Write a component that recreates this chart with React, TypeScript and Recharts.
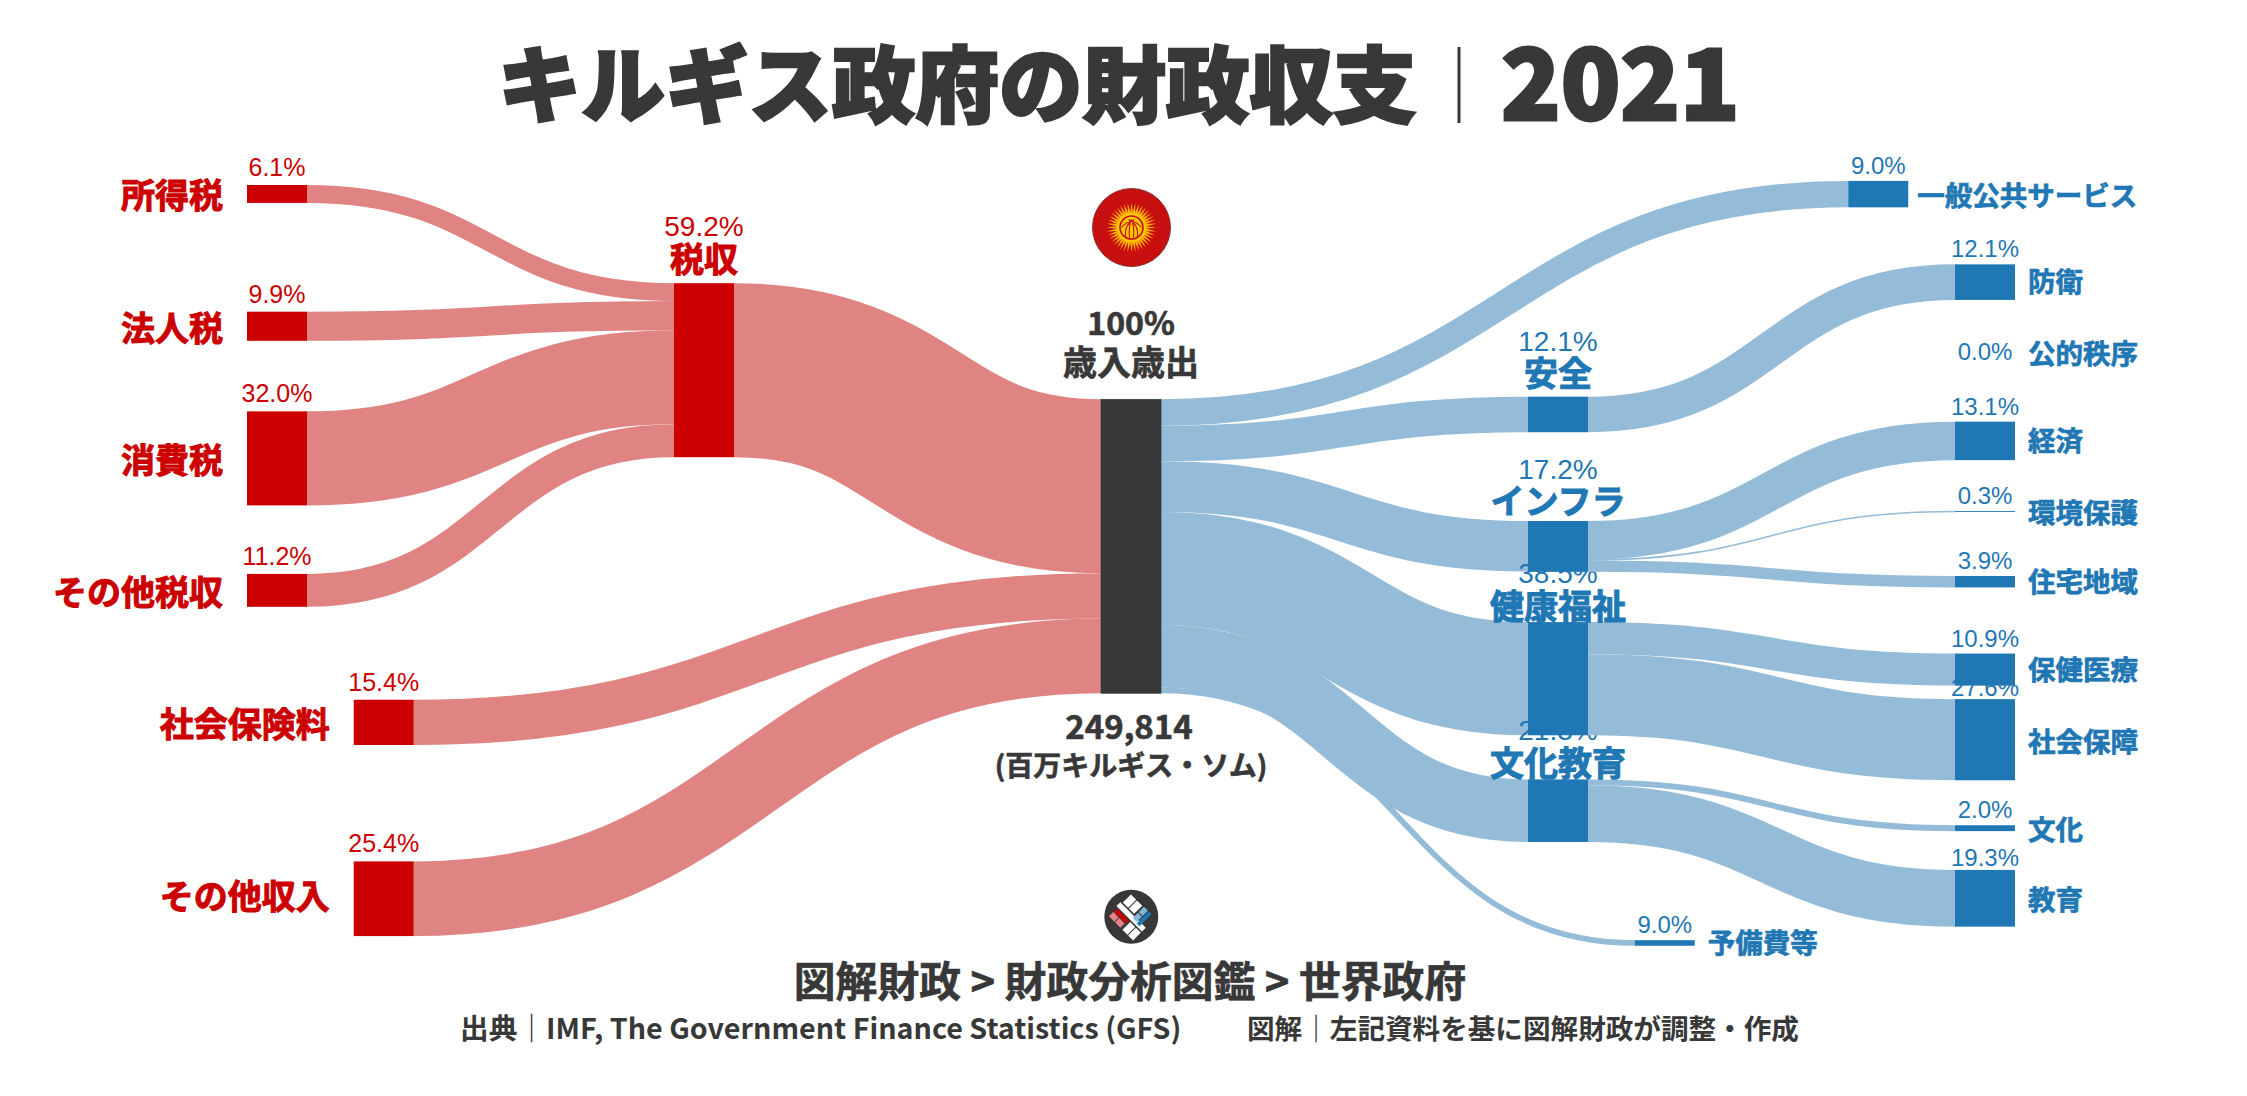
import { Sankey } from 'recharts';

// values in % of the total
const revenueNames = ['所得税', '法人税', '消費税', 'その他税収', '社会保険料', 'その他収入'];
const revenueValues = [6.1, 9.9, 32.0, 11.2, 15.4, 25.4];
const revenueLabels = ['6.1%', '9.9%', '32.0%', '11.2%', '15.4%', '25.4%'];

const sectorNames = ['一般公共サービス', '安全', 'インフラ', '健康福祉', '文化教育', '予備費等'];
const sectorValues = [9.0, 12.1, 17.2, 38.5, 21.3, 1.9];
const sectorLabels = ['9.0%', '12.1%', '17.2%', '38.5%', '21.3%', '9.0%'];

const detailNames = ['防衛', '公的秩序', '経済', '環境保護', '住宅地域', '保健医療', '社会保障', '文化', '教育'];
const detailParents = ['安全', '安全', 'インフラ', 'インフラ', 'インフラ', '健康福祉', '健康福祉', '文化教育', '文化教育'];
const detailValues = [12.1, 0, 13.1, 0.3, 3.9, 10.9, 27.6, 2.0, 19.3];
const detailLabels = ['12.1%', '0.0%', '13.1%', '0.3%', '3.9%', '10.9%', '27.6%', '2.0%', '19.3%'];

// empty space above each node of a column, same unit as the values
const revenueGaps = [5.1, 37.0, 24.0, 23.3, 31.6, 39.6];
const taxGaps = [38.5];
const totalGaps = [78.0];
const sectorGaps = [3.7, 64.4, 30.2, 17.1, 15.0, 33.4];
const detailGaps = [32.1, 17.7, 23.7, 17.3, 21.8, 22.5, 4.6, 15.3, 13.2];
const gapTotal = 170;

const TAX = '税収';
const TOTAL = '歳入歳出';

const RED = '#cc0000';
const RED_LINK = '#e08383';
const BLUE = '#1f77b4';
const BLUE_LINK = '#94bbd7';
const DARK = '#383838';
const JP = '"Noto Sans CJK JP", sans-serif';
const LATIN = '"Liberation Sans", sans-serif';

const MARGIN = { top: 170, left: 247, right: 232, bottom: 132 };
const NODE_WIDTH = 60;
const COLUMN_STEP = 427;
const nudges: Record<string, number> = { 社会保険料: 0.25, その他収入: 0.25, 一般公共サービス: 0.75, 予備費等: 0.25 };
const nameLift: Record<string, number> = { 税収: 26, 安全: 25, インフラ: 21, 健康福祉: 18, 文化教育: 18 };
const nameDrop: Record<string, number> = { その他収入: -4, 防衛: -2, 経済: -2, 住宅地域: -2, 保健医療: -2, 予備費等: -2 };
const nameSlide: Record<string, number> = { 一般公共サービス: -4 };
const pctLift: Record<string, number> = { 社会保障: 3, 教育: 4, 公的秩序: -8 };
// these labels sit under the bar of the node above them
const labelsUnderBars = ['健康福祉', '文化教育', '社会保障'];

const labelOf: Record<string, string> = {};
revenueNames.forEach((n, i) => (labelOf[n] = revenueLabels[i]));
sectorNames.forEach((n, i) => (labelOf[n] = sectorLabels[i]));
detailNames.forEach((n, i) => (labelOf[n] = detailLabels[i]));
labelOf[TAX] = '59.2%';

const buildData = () => {
  const columns = [
    { names: revenueNames, gaps: revenueGaps },
    { names: [TAX], gaps: taxGaps },
    { names: [TOTAL], gaps: totalGaps },
    { names: sectorNames, gaps: sectorGaps },
    { names: detailNames, gaps: detailGaps },
  ];
  const nodes: any[] = [];
  const links: any[] = [];
  const indexOf: Record<string, number> = {};
  const gapCols: { index: number; size: number }[][] = [];

  columns.forEach((col, d) => {
    const used = col.gaps.reduce((a, b) => a + b, 0);
    const sizes = [...col.gaps, gapTotal - used];
    const list: { index: number; size: number }[] = [];
    sizes.forEach((size, i) => {
      list.push({ index: nodes.length, size });
      nodes.push({ name: `gap-${d}-${i}`, hidden: true });
      if (i < col.names.length) {
        indexOf[col.names[i]] = nodes.length;
        nodes.push({ name: col.names[i] });
      }
    });
    gapCols.push(list);
  });

  // spacers hand their size on to the next column so the layout keeps them
  for (let d = 0; d < gapCols.length - 1; d++) {
    let a = 0;
    let b = 0;
    let restA = gapCols[d][0].size;
    let restB = gapCols[d + 1][0].size;
    while (a < gapCols[d].length && b < gapCols[d + 1].length) {
      const v = Math.min(restA, restB);
      if (v > 1e-9) links.push({ source: gapCols[d][a].index, target: gapCols[d + 1][b].index, value: v });
      restA -= v;
      restB -= v;
      if (restA <= 1e-9) {
        a++;
        restA = a < gapCols[d].length ? gapCols[d][a].size : 0;
      }
      if (restB <= 1e-9) {
        b++;
        restB = b < gapCols[d + 1].length ? gapCols[d + 1][b].size : 0;
      }
    }
  }

  const add = (from: string, to: string, value: number) =>
    links.push({ source: indexOf[from], target: indexOf[to], value });
  revenueNames.forEach((n, i) => add(n, i < 4 ? TAX : TOTAL, revenueValues[i]));
  add(TAX, TOTAL, 59.2);
  sectorNames.forEach((n, i) => add(TOTAL, n, sectorValues[i]));
  detailNames.forEach((n, i) => add(detailParents[i], n, detailValues[i]));
  return { nodes, links };
};

const data = buildData();
const shift = (name: string) => (nudges[name] || 0) * COLUMN_STEP;
const namedAbove = (name: string, depth: number) =>
  name === TAX || (depth === 3 && name !== '一般公共サービス' && name !== '予備費等');

const PctText = ({ name, depth, cx, y, fill }: any) => {
  const above = namedAbove(name, depth);
  const baseline = above ? y - (nameLift[name] || 0) - 21 : y - (pctLift[name] ?? (depth === 0 ? 9 : 7));
  return (
    <text x={cx} y={baseline} textAnchor="middle" fontFamily={LATIN} fill={fill}
      fontSize={above ? 28 : depth === 0 ? 25 : 24}>
      {labelOf[name]}
    </text>
  );
};

const FlowLink = (props: any) => {
  const { sourceX, targetX, sourceY, targetY, linkWidth, payload } = props;
  const { source, target } = payload;
  if (source.hidden) return null;
  const x0 = sourceX + shift(source.name);
  const x1 = targetX + shift(target.name);
  const mid = (x0 + x1) / 2;
  const isRed = source.depth < 2;
  return (
    <g>
      {linkWidth > 0 && (
        <path
          d={`M${x0},${sourceY} C${mid},${sourceY} ${mid},${targetY} ${x1},${targetY}`}
          fill="none"
          stroke={isRed ? RED_LINK : BLUE_LINK}
          strokeWidth={Math.max(linkWidth, 1.6)}
        />
      )}
      {labelsUnderBars.includes(target.name) && (
        <PctText
          name={target.name}
          depth={target.depth}
          cx={x1 + NODE_WIDTH / 2}
          y={target.y + MARGIN.top}
          fill={BLUE}
        />
      )}
    </g>
  );
};

const FlowNode = (props: any) => {
  const { x, y, width, height, payload } = props;
  if (payload.hidden) return null;
  const name: string = payload.name;
  const depth: number = payload.depth;
  const left = x + shift(name);
  const cx = left + width / 2;
  const color = depth < 2 ? RED : depth === 2 ? DARK : BLUE;

  if (name === TOTAL) {
    return (
      <g fontFamily={JP} fontWeight={700} fill={DARK} stroke={DARK} strokeWidth={0.7} textAnchor="middle">
        <rect x={left} y={y} width={width} height={height} fill={DARK} />
        <text x={cx} y={335} fontSize={32}>100%</text>
        <text x={cx} y={375} fontSize={34}>{TOTAL}</text>
      </g>
    );
  }

  const midY = y + height / 2;
  const textStyle = { fontFamily: JP, fontWeight: 700, fill: color, stroke: color };
  return (
    <g>
      <rect x={left} y={y} width={width} height={height} fill={color} />
      {!labelsUnderBars.includes(name) && <PctText name={name} depth={depth} cx={cx} y={y} fill={color} />}
      {namedAbove(name, depth) ? (
        <text x={cx} y={y - (nameLift[name] || 0)} dominantBaseline="central" textAnchor="middle"
          fontSize={34} strokeWidth={1} {...textStyle}>
          {name}
        </text>
      ) : depth === 0 ? (
        <text x={left - 24} y={midY + (nameDrop[name] || 0)} dominantBaseline="central" textAnchor="end"
          fontSize={34} strokeWidth={1} {...textStyle}>
          {name}
        </text>
      ) : (
        <text x={left + width + 13 + (nameSlide[name] || 0)} y={midY + (nameDrop[name] || 0)} dominantBaseline="central"
          textAnchor="start" fontSize={27.5} strokeWidth={0.7} {...textStyle}>
          {name}
        </text>
      )}
    </g>
  );
};

const rayAngles = Array.from({ length: 40 }, (_, i) => i * 9);

const Flag = () => (
  <g transform="translate(1131.5 227.5)">
    <circle r={39} fill="#c80f0f" stroke="#8c3030" strokeWidth={1} />
    {rayAngles.map((a) => (
      <polygon key={a} points="-1.6,-12 1.6,-12 0,-25" fill="#ffb400" transform={`rotate(${a})`} />
    ))}
    <circle r={14.5} fill="#ffc800" />
    <circle r={11.5} fill="#ffc800" stroke="#c80f0f" strokeWidth={1.6} />
    <path d="M-10,0 Q0,-12 10,0 M-6,9 Q-7,-4 3,-8 M6,9 Q7,-4 -3,-8 M-2,10 Q-3,-2 0,-8 M2,10 Q3,-2 0,-8"
      fill="none" stroke="#c80f0f" strokeWidth={1.1} />
  </g>
);

const Logo = () => (
  <g transform="translate(1131.3 916.7)">
    <circle r={27} fill={DARK} />
    <g transform="rotate(45)">
      <rect x={-18} y={-2.5} width={36} height={5.5} fill="#fff" />
      <rect x={-16} y={4.5} width={17} height={4} fill={RED} />
      <rect x={-16} y={9.5} width={7.5} height={6} fill="#e8808c" />
      <rect x={-7.5} y={9.5} width={7.5} height={6} fill="#e8808c" />
      <rect x={-16} y={-15.5} width={7.5} height={11.5} fill="#fff" />
      <rect x={-7.5} y={-15.5} width={7.5} height={11.5} fill="#fff" />
      <rect x={8.5} y={-16} width={4} height={17} fill={BLUE} />
      <rect x={2} y={-16} width={5.5} height={7.5} fill="#7fb6da" />
      <rect x={2} y={-7.5} width={5.5} height={7.5} fill="#7fb6da" />
      <rect x={3} y={4.5} width={7} height={11} fill="#fff" />
      <rect x={11} y={4.5} width={7} height={11} fill="#fff" />
    </g>
  </g>
);

const App = () => {
  return (
    <div style={{ position: 'absolute', left: 0, top: 0, width: 2247, height: 1096, background: '#fff', overflow: 'hidden' }}>
      <Sankey
        width={2247}
        height={1096}
        data={data}
        margin={MARGIN}
        nodeWidth={NODE_WIDTH}
        nodePadding={0}
        iterations={0}
        sort={false}
        align="left"
        verticalAlign="top"
        node={FlowNode}
        link={FlowLink}
      />
      <svg width={2247} height={1096} style={{ position: 'absolute', left: 0, top: 0, pointerEvents: 'none' }}>
        <text x={498} y={116} fontFamily={JP} fontWeight={900} fontSize={83.5} fill={DARK} stroke={DARK} strokeWidth={2.5}>
          キルギス政府の財政収支
        </text>
        <line x1={1459} x2={1459} y1={47} y2={123} stroke={DARK} strokeWidth={3} />
        <text x={1501} y={120} fontFamily={JP} fontWeight={900} fontSize={98} fill={DARK} stroke={DARK} strokeWidth={3}>
          2021
        </text>

        <Flag />
        <Logo />

        <g fontFamily={JP} fontWeight={700} fill={DARK} stroke={DARK} strokeWidth={0.6} textAnchor="middle">
          <text x={1129} y={739} fontSize={33}>249,814</text>
          <text x={1131} y={776} fontSize={28}>(百万キルギス・ソム)</text>
          <text x={1130} y={997} fontSize={41.8}>図解財政 &gt; 財政分析図鑑 &gt; 世界政府</text>
        </g>
        <g fontFamily={JP} fontWeight={700} fill={DARK}>
          <text x={460} y={1039} fontSize={28.7}>出典｜IMF, The Government Finance Statistics (GFS)</text>
          <text x={1247} y={1039} fontSize={27.6}>図解｜左記資料を基に図解財政が調整・作成</text>
        </g>
      </svg>
    </div>
  );
};

export default App;
